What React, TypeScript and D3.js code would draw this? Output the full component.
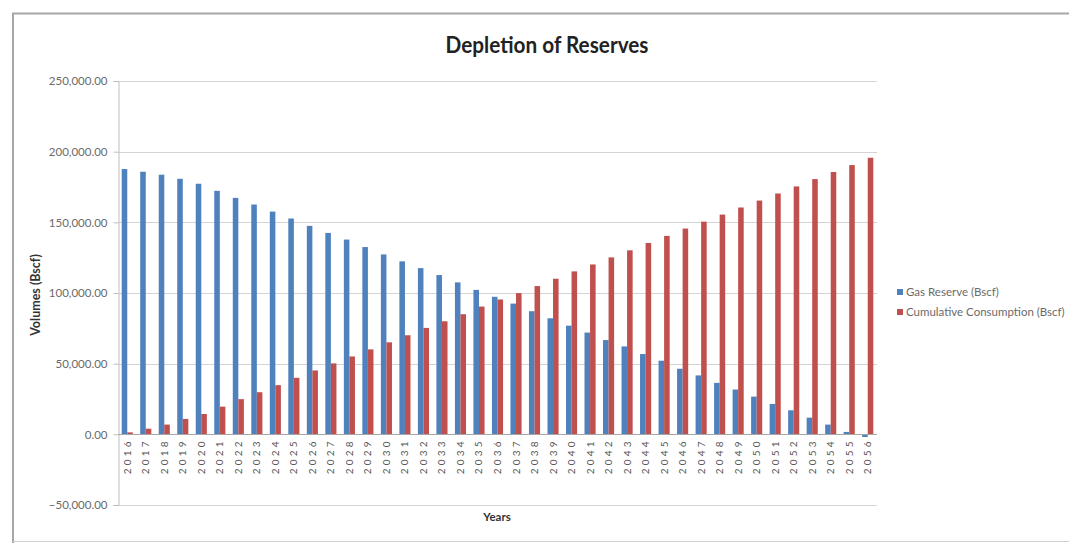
import React, { useEffect, useRef } from 'react';
import * as d3 from 'd3';

// Categories (years) and series values (Bscf)
const YEARS = [
  '2016', '2017', '2018', '2019', '2020', '2021', '2022', '2023', '2024', '2025',
  '2026', '2027', '2028', '2029', '2030', '2031', '2032', '2033', '2034', '2035',
  '2036', '2037', '2038', '2039', '2040', '2041', '2042', '2043', '2044', '2045',
  '2046', '2047', '2048', '2049', '2050', '2051', '2052', '2053', '2054', '2055',
  '2056',
];

const GAS_RESERVE = [
  187700, 185800, 183700, 180800, 177300, 172300, 167300, 162600, 157600, 152700,
  147500, 142500, 137800, 132500, 127300, 122400, 117600, 112700, 107500, 102200,
  97300, 92500, 87100, 82100, 76900, 72000, 66700, 62200, 56800, 52100,
  46400, 41700, 36400, 31700, 26700, 21500, 17000, 11800, 6900, 1700,
  -1900,
];

const CUMULATIVE = [
  1400, 4000, 6900, 10900, 14400, 19600, 24900, 29800, 34800, 40000,
  45200, 50200, 55100, 60100, 65100, 70100, 75300, 80000, 85000, 90400,
  95400, 99900, 104900, 110100, 115300, 120200, 125200, 130200, 135400, 140400,
  145600, 150500, 155500, 160500, 165400, 170400, 175400, 180600, 185600, 190500,
  195700,
];

const Y_TICKS = [-50000, 0, 50000, 100000, 150000, 200000, 250000];

const SERIES = [
  { name: 'Gas Reserve (Bscf)', values: GAS_RESERVE, color: '#4F81BD' },
  { name: 'Cumulative Consumption (Bscf)', values: CUMULATIVE, color: '#C0504D' },
];

const WIDTH = 1069;
const HEIGHT = 543;

export default function App() {
  const svgRef = useRef<SVGSVGElement>(null);

  useEffect(() => {
    if (!svgRef.current) return;
    const svg = d3.select(svgRef.current);
    svg.selectAll('*').remove();

    const plot = { left: 118, right: 877, top: 81, bottom: 505 };
    const font = 'Lato, "Open Sans", sans-serif';

    // chart frame
    svg.append('path')
      .attr('d', `M13,543 L13,13.5 L1069,13.5`)
      .attr('fill', 'none')
      .attr('stroke', '#a6a6a6')
      .attr('stroke-width', 2);
    svg.append('line')
      .attr('x1', 13).attr('x2', 1069)
      .attr('y1', 541.5).attr('y2', 541.5)
      .attr('stroke', '#d0d0d0').attr('stroke-width', 1);

    const x = d3.scaleBand<string>()
      .domain(YEARS)
      .range([plot.left, plot.right])
      .paddingInner(0.4)
      .paddingOuter(0.2);

    const xSub = d3.scaleBand<number>()
      .domain(SERIES.map((_, i) => i))
      .range([0, x.bandwidth()]);

    const y = d3.scaleLinear()
      .domain([-50000, 250000])
      .range([plot.bottom, plot.top]);

    // gridlines
    svg.append('g')
      .selectAll('line')
      .data(Y_TICKS.filter(d => d !== 0))
      .enter()
      .append('line')
      .attr('x1', plot.left)
      .attr('x2', plot.right)
      .attr('y1', d => Math.round(y(d)) + 0.5)
      .attr('y2', d => Math.round(y(d)) + 0.5)
      .attr('stroke', '#d4d4d4')
      .attr('stroke-width', 1);

    // y axis
    const yAxis = d3.axisLeft(y)
      .tickValues(Y_TICKS)
      .tickSize(5)
      .tickPadding(6)
      .tickFormat(d => d3.format(',.2f')(d as number));

    svg.append('g')
      .attr('transform', `translate(${plot.left + 0.5},0)`)
      .call(yAxis)
      .call(g => g.select('.domain').attr('stroke', '#bfbfbf'))
      .call(g => g.selectAll('.tick line').attr('stroke', '#bfbfbf'))
      .call(g => g.selectAll('.tick text')
        .attr('fill', '#6b6b6b')
        .attr('font-size', '11.5px')
        .attr('font-family', font));

    // bars
    SERIES.forEach((s, si) => {
      svg.append('g')
        .selectAll('rect')
        .data(s.values)
        .enter()
        .append('rect')
        .attr('x', (_, i) => (x(YEARS[i]) as number) + (xSub(si) as number))
        .attr('width', xSub.bandwidth())
        .attr('y', d => y(Math.max(0, d)))
        .attr('height', d => Math.abs(y(d) - y(0)))
        .attr('fill', s.color);
    });

    // category axis at zero
    svg.append('line')
      .attr('x1', plot.left)
      .attr('x2', plot.right)
      .attr('y1', Math.round(y(0)) + 0.5)
      .attr('y2', Math.round(y(0)) + 0.5)
      .attr('stroke', '#a6a6a6')
      .attr('stroke-width', 1);

    // year labels (rotated)
    svg.append('g')
      .selectAll('text')
      .data(YEARS)
      .enter()
      .append('text')
      .attr('transform', d => `translate(${(x(d) as number) + x.bandwidth() / 2},${y(0) + 7}) rotate(-90)`)
      .attr('text-anchor', 'end')
      .attr('dy', '0.35em')
      .attr('fill', '#555')
      .attr('font-size', '10px')
      .attr('font-family', font)
      .attr('textLength', 33)
      .attr('lengthAdjust', 'spacing')
      .text(d => d);

    // axis titles
    svg.append('text')
      .attr('transform', `translate(40,${(plot.top + plot.bottom) / 2 + 2}) rotate(-90)`)
      .attr('text-anchor', 'middle')
      .attr('fill', '#333')
      .attr('font-size', '12.5px')
      .attr('font-weight', 'bold')
      .attr('font-family', font)
      .text('Volumes (Bscf)');

    svg.append('text')
      .attr('x', 497)
      .attr('y', 521)
      .attr('text-anchor', 'middle')
      .attr('fill', '#333')
      .attr('font-size', '11.5px')
      .attr('font-weight', 'bold')
      .attr('font-family', font)
      .text('Years');

    // title
    svg.append('text')
      .attr('x', 547)
      .attr('y', 53)
      .attr('text-anchor', 'middle')
      .attr('fill', '#222')
      .attr('font-size', '23px')
      .attr('font-weight', 'bold')
      .attr('font-family', font)
      .attr('textLength', 203)
      .attr('lengthAdjust', 'spacingAndGlyphs')
      .text('Depletion of Reserves');

    // legend
    const legend = svg.append('g').attr('transform', 'translate(897,289)');
    SERIES.forEach((s, i) => {
      const item = legend.append('g').attr('transform', `translate(0,${i * 20})`);
      item.append('rect')
        .attr('width', 6)
        .attr('height', 6)
        .attr('fill', s.color);
      item.append('text')
        .attr('x', 9)
        .attr('y', 7)
        .attr('fill', '#6b6b6b')
        .attr('font-size', '11.5px')
        .attr('font-family', font)
        .text(s.name);
    });
  }, []);

  return (
    <svg
      ref={svgRef}
      width={WIDTH}
      height={HEIGHT}
      viewBox={`0 0 ${WIDTH} ${HEIGHT}`}
      style={{ position: 'absolute', left: 0, top: 0, background: '#fff' }}
    />
  );
}
